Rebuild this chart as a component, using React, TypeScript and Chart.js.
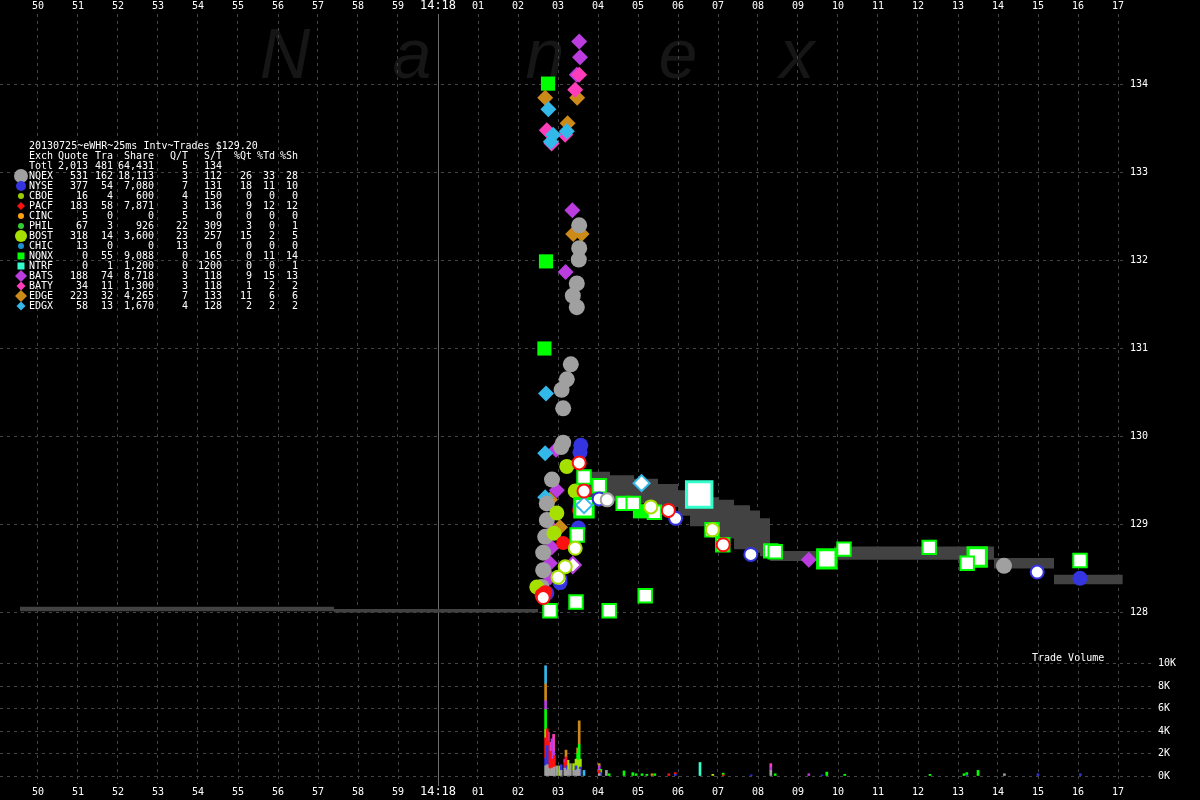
import React, { useEffect, useRef } from 'react';
import { Chart, registerables } from 'chart.js';

Chart.register(...registerables);

// ---------------- axis labels ----------------
const timeLabels = ['50', '51', '52', '53', '54', '55', '56', '57', '58', '59', '14:18', '01', '02', '03', '04', '05', '06', '07', '08', '09', '10', '11', '12', '13', '14', '15', '16', '17'];
const FIRST_SECOND = -10; // 14:17:50 relative to 14:18:00
const priceTicks = [128, 129, 130, 131, 132, 133, 134];
const volumeTicks = [0, 2000, 4000, 6000, 8000, 10000];

// ---------------- NBBO band (seconds after 14:18:00, price); each value holds until the next time ----------------
const bandT = [-10.45, -2.6, 2.5, 2.6, 3.75, 4.3, 4.9, 5.5, 6.0, 6.3, 6.7, 7.0, 7.4, 7.8, 8.05, 8.3, 9.9, 13.9, 15.4, 17.12];
const askP = [128.065, 128.04, 128.04, null, 129.6, 129.56, 129.52, 129.46, 129.39, 129.36, 129.31, 129.28, 129.22, 129.16, 129.07, 128.7, 128.75, 128.62, 128.43, 128.43];
const bidP = [128.015, 128.0, 128.0, null, 129.3, 129.27, 129.24, 129.2, 129.1, 128.98, 128.9, 128.84, 128.72, 128.68, 128.64, 128.585, 128.6, 128.5, 128.32, 128.32];

// ---------------- quotes ----------------
const nqexQT = [3.53, 3.53, 3.52, 3.47, 3.37, 3.47, 3.32, 3.22, 3.09, 3.13, 3.13, 3.08, 2.85, 2.72, 2.72, 2.68, 2.63, 2.63, 2.59, 14.15];
const nqexQP = [132.4, 132.14, 132.01, 131.74, 131.6, 131.47, 130.82, 130.65, 130.53, 130.32, 129.93, 129.88, 129.51, 129.24, 129.05, 128.86, 128.68, 128.48, 128.29, 128.53];
const nyseQT = [3.57, 3.55, 3.51, 3.55, 3.05, 2.72, 16.05];
const nyseQP = [129.9, 129.82, 128.96, 129.2, 128.34, 128.22, 128.39];
const pacfQT = [3.13, 2.59, 2.68, 3.53];
const pacfQP = [128.79, 128.2, 128.23, 129.16];
const bostQT = [3.22, 3.43, 2.97, 2.47, 2.9];
const bostQP = [129.66, 129.38, 129.13, 128.29, 128.9];
const nqnxQT = [2.75, 2.7, 2.66, 5.05];
const nqnxQP = [134.01, 131.99, 131.0, 129.15];
const batsQT = [3.53, 3.55, 3.47, 3.36, 3.19, 2.95, 2.97, 2.88, 2.84, 2.8, 2.8, 9.27];
const batsQP = [134.49, 134.31, 134.11, 132.57, 131.87, 129.85, 129.39, 128.94, 128.74, 128.56, 128.4, 128.6];
const batyQT = [3.53, 3.43, 2.72, 3.18, 2.84];
const batyQP = [134.11, 133.94, 133.48, 133.43, 133.33];
const edgeQT = [3.48, 2.68, 3.24, 3.38, 3.59, 2.8, 3.05];
const edgeQP = [133.85, 133.85, 133.56, 132.3, 132.3, 129.28, 128.97];
const edgxQT = [2.76, 2.88, 2.82, 3.22, 2.7, 2.68, 2.68];
const edgxQP = [133.72, 133.43, 133.35, 133.47, 130.49, 129.81, 129.31];

// ---------------- trades ----------------
const nqexTT = [4.23];
const nqexTP = [129.28];
const nyseTT = [5.94, 7.82, 14.98, 4.03, 3.05];
const nyseTP = [129.07, 128.66, 128.46, 129.29, 128.38];
const pacfTT = [3.53, 3.65, 5.76, 7.13, 2.63];
const pacfTP = [129.7, 129.38, 129.16, 128.77, 128.17];
const bostTT = [6.86, 5.32, 3.43, 3.18, 3.0];
const bostTP = [128.94, 129.2, 128.73, 128.52, 128.4];
const nqnxTT = [3.65, 4.03, 4.63, 4.88, 5.41, 8.32, 8.43, 10.15, 12.28, 13.23, 16.05, 3.45, 4.28, 5.18, 2.8, 3.48, 6.85, 7.12];
const nqnxTP = [129.54, 129.44, 129.24, 129.24, 129.14, 128.7, 128.69, 128.72, 128.74, 128.56, 128.59, 128.12, 128.02, 128.19, 128.02, 128.88, 128.94, 128.77];
const nqnxBigTT = [3.65, 9.72, 13.48];
const nqnxBigTP = [129.19, 128.61, 128.63];
const ntrfTT = [6.53];
const ntrfTP = [129.34];
const edgxTT = [5.09, 3.65];
const edgxTP = [129.47, 129.22];
const batsTT = [3.37];
const batsTP = [128.54];

// ---------------- trade volume ----------------
const nqexVT = [2.69, 2.73, 2.76, 2.81, 2.85, 2.89, 2.91, 2.97, 3.08, 3.17, 3.2, 3.25, 3.31, 3.39, 3.45, 3.49, 3.53, 4.03, 4.21, 8.32, 14.16];
const nqexVV = [900, 1000, 700, 600, 700, 700, 800, 900, 500, 700, 500, 600, 1100, 500, 500, 600, 600, 200, 500, 500, 200];
const nyseVT = [2.69, 2.73, 3.08, 3.2, 3.45, 3.56, 4.07, 5.93, 7.83, 9.6, 13.22, 15.0, 16.06];
const nyseVV = [700, 1700, 500, 400, 400, 800, 300, 150, 100, 100, 100, 200, 200];
const pacfVT = [2.69, 2.73, 2.76, 2.81, 2.85, 2.91, 3.17, 3.2, 4.03, 5.77, 5.93, 7.13];
const pacfVV = [1800, 1500, 2400, 1600, 800, 1000, 500, 800, 300, 200, 150, 100];
const bostVT = [2.69, 3.04, 3.25, 3.39, 3.45, 3.49, 3.56, 6.87];
const bostVV = [700, 900, 800, 600, 600, 800, 700, 150];
const nqnxVT = [2.69, 3.49, 3.53, 4.07, 4.28, 4.65, 4.87, 4.95, 5.1, 5.22, 5.42, 7.13, 8.43, 9.72, 10.17, 12.3, 13.15, 13.22, 13.5];
const nqnxVV = [1800, 600, 2200, 300, 200, 450, 300, 200, 200, 150, 200, 150, 200, 350, 150, 150, 200, 200, 500];
const ntrfVT = [6.55];
const ntrfVV = [1200];
const batsVT = [2.69, 2.76, 2.85, 2.89, 3.17, 4.03, 8.32, 9.27];
const batsVV = [800, 800, 1800, 1500, 300, 400, 300, 200];
const batyVT = [2.81, 2.89, 8.32];
const batyVV = [800, 1500, 300];
const edgeVT = [2.69, 3.2, 3.49, 3.53, 4.03, 5.35];
const edgeVV = [1500, 600, 500, 2100, 200, 200];
const edgxVT = [2.69, 3.65];
const edgxVV = [1600, 500];

// ---------------- summary table ----------------
const tableTitle = '20130725~eWHR~25ms Intv~Trades $129.20';
const tableHeader = ['Exch', 'Quote', 'Tra', 'Share', 'Q/T', 'S/T', '%Qt', '%Td', '%Sh'];
const tExch = ['Totl', 'NQEX', 'NYSE', 'CBOE', 'PACF', 'CINC', 'PHIL', 'BOST', 'CHIC', 'NQNX', 'NTRF', 'BATS', 'BATY', 'EDGE', 'EDGX'];
const tQuote = ['2,013', '531', '377', '16', '183', '5', '67', '318', '13', '0', '0', '188', '34', '223', '58'];
const tTra = ['481', '162', '54', '4', '58', '0', '3', '14', '0', '55', '1', '74', '11', '32', '13'];
const tShare = ['64,431', '18,113', '7,080', '600', '7,871', '0', '926', '3,600', '0', '9,088', '1,200', '8,718', '1,300', '4,265', '1,670'];
const tQT = ['5', '3', '7', '4', '3', '5', '22', '23', '13', '0', '0', '3', '3', '7', '4'];
const tST = ['134', '112', '131', '150', '136', '0', '309', '257', '0', '165', '1200', '118', '118', '133', '128'];
const tPQt = ['', '26', '18', '0', '9', '0', '3', '15', '0', '0', '0', '9', '1', '11', '2'];
const tPTd = ['', '33', '11', '0', '12', '0', '0', '2', '0', '11', '0', '15', '2', '6', '2'];
const tPSh = ['', '28', '10', '0', '12', '0', '1', '5', '0', '14', '1', '13', '2', '6', '2'];

// ---------------- styles ----------------
const COLORS: Record<string, string> = {
  NQEX: '#a0a0a0', NYSE: '#3434e0', CBOE: '#99cc00', PACF: '#ff1010', CINC: '#ffa010', PHIL: '#33cc33',
  BOST: '#a6e000', CHIC: '#1f8fcf', NQNX: '#00ff00', NTRF: '#33ffcc', BATS: '#bb3de0', BATY: '#ff3dbb',
  EDGE: '#cc8a18', EDGX: '#33b8ea',
};
const LEGEND_MARK: Record<string, [string, number]> = {
  NQEX: ['circle', 7], NYSE: ['circle', 5], CBOE: ['circle', 3], PACF: ['diamond', 4], CINC: ['circle', 3],
  PHIL: ['circle', 3], BOST: ['circle', 6], CHIC: ['circle', 3], NQNX: ['rect', 3.5], NTRF: ['rect', 3.5],
  BATS: ['diamond', 6], BATY: ['diamond', 4.5], EDGE: ['diamond', 6], EDGX: ['diamond', 4.5],
};
const FONT = '"DejaVu Sans Mono", monospace';
const GRID = '#454545';
const BAND = '#424242';
const DASH = [3, 4];

const W = 1200;
const PRICE_H = 650;
const VOL_H = 150;
// x mapping: 14:18:00 at 438 px, 40 px per second; plot starts at x=0
const X_MIN = -438 / 40;
const PRICE_RIGHT = 1125;
const VOL_RIGHT = 1153;
const PRICE_TOP = 14;
// price: 88 px per dollar, 128 at y=612.5
const P_MAX = 128 + (612.5 - PRICE_TOP) / 88;
const P_MIN = 128 - (PRICE_H - 612.5) / 88;
// volume panel local coords: 0 at 126, 10K at 13.5
const VOL_BOTTOM = 134;
const V_PER_PX = 10000 / (126 - 13.5);
const V_MAX = 10000 + 13.5 * V_PER_PX;
const V_MIN = -(VOL_BOTTOM - 126) * V_PER_PX;

const pts = (t: number[], p: (number | null)[]) => t.map((x, i) => ({ x, y: p[i] }));

const zeroPad = (s: any) => {
  s.paddingLeft = 0; s.paddingRight = 0; s.paddingTop = 0; s.paddingBottom = 0;
};

function drawMark(ctx: CanvasRenderingContext2D, kind: string, x: number, y: number, r: number, color: string) {
  ctx.fillStyle = color;
  ctx.beginPath();
  if (kind === 'circle') ctx.arc(x, y, r, 0, Math.PI * 2);
  else if (kind === 'rect') ctx.rect(x - r, y - r, 2 * r, 2 * r);
  else {
    ctx.moveTo(x, y - r); ctx.lineTo(x + r, y); ctx.lineTo(x, y + r); ctx.lineTo(x - r, y); ctx.closePath();
  }
  ctx.fill();
}

const xTickFont = (c: any) => (c.tick && c.tick.value === 0 ? { family: FONT, size: 12, lineHeight: 1 } : { family: FONT, size: 10, lineHeight: 1.2 });
const xGridColor = (c: any) => (c.tick && c.tick.value === 0 ? 'rgba(0,0,0,0)' : GRID);
const xLabel = (v: any) => timeLabels[Math.round(Number(v)) - FIRST_SECOND] ?? '';
const xTickList = timeLabels.map((_, i) => i + FIRST_SECOND);

const pricePlugin = {
  id: 'priceDecor',
  beforeDraw(chart: any) {
    const ctx = chart.ctx as CanvasRenderingContext2D;
    ctx.save();
    ctx.fillStyle = '#000';
    ctx.fillRect(0, 0, chart.width, chart.height);
    ctx.font = 'italic 70px "Liberation Sans", sans-serif';
    ctx.fillStyle = '#161616';
    ctx.textAlign = 'center';
    ctx.textBaseline = 'alphabetic';
    const letters = ['N', 'a', 'n', 'e', 'x'];
    const lx = [285, 412, 545, 678, 797];
    letters.forEach((ch, i) => ctx.fillText(ch, lx[i], 78));
    ctx.restore();
  },
  beforeDatasetsDraw(chart: any) {
    const ctx = chart.ctx as CanvasRenderingContext2D;
    const x = Math.round(chart.scales.x.getPixelForValue(0)) + 0.5;
    ctx.save();
    ctx.strokeStyle = '#6e6e6e';
    ctx.lineWidth = 1;
    ctx.beginPath();
    ctx.moveTo(x, PRICE_TOP);
    ctx.lineTo(x, chart.height);
    ctx.stroke();
    ctx.restore();
  },
  afterDraw(chart: any) {
    const ctx = chart.ctx as CanvasRenderingContext2D;
    ctx.save();
    ctx.font = `10px ${FONT}`;
    ctx.fillStyle = '#fff';
    ctx.textBaseline = 'middle';
    const rowY = (i: number) => 146 + i * 10;
    const colR = [88, 113, 154, 188, 222, 252, 275, 298];
    ctx.textAlign = 'left';
    ctx.fillText(tableTitle, 29, rowY(0));
    ctx.fillText(tableHeader[0], 29, rowY(1));
    ctx.textAlign = 'right';
    tableHeader.slice(1).forEach((h, j) => ctx.fillText(h, colR[j], rowY(1)));
    tExch.forEach((ex, i) => {
      const y = rowY(i + 2);
      if (LEGEND_MARK[ex]) {
        const [kind, r] = LEGEND_MARK[ex];
        drawMark(ctx, kind, 21, y, r, COLORS[ex]);
      }
      ctx.fillStyle = '#fff';
      ctx.textAlign = 'left';
      ctx.fillText(ex, 29, y);
      ctx.textAlign = 'right';
      const vals = [tQuote[i], tTra[i], tShare[i], tQT[i], tST[i], tPQt[i], tPTd[i], tPSh[i]];
      vals.forEach((v, j) => { if (v) ctx.fillText(v, colR[j], y); });
    });
    ctx.restore();
  },
};

const volPlugin = {
  id: 'volDecor',
  beforeDraw(chart: any) {
    const ctx = chart.ctx as CanvasRenderingContext2D;
    ctx.save();
    ctx.fillStyle = '#000';
    ctx.fillRect(0, 0, chart.width, chart.height);
    ctx.restore();
  },
  beforeDatasetsDraw(chart: any) {
    const ctx = chart.ctx as CanvasRenderingContext2D;
    const x = Math.round(chart.scales.x.getPixelForValue(0)) + 0.5;
    ctx.save();
    ctx.strokeStyle = '#6e6e6e';
    ctx.lineWidth = 1;
    ctx.beginPath();
    ctx.moveTo(x, 0);
    ctx.lineTo(x, VOL_BOTTOM + 2);
    ctx.stroke();
    ctx.font = `10px ${FONT}`;
    ctx.fillStyle = '#fff';
    ctx.textAlign = 'left';
    ctx.textBaseline = 'middle';
    ctx.fillText('Trade Volume', 1032, 8);
    ctx.restore();
  },
};

function quoteSet(label: string, t: number[], p: number[], style: string, r: number, order: number) {
  return {
    label, data: pts(t, p), pointStyle: style, pointRadius: r, pointHoverRadius: r,
    backgroundColor: COLORS[label], borderColor: COLORS[label], borderWidth: 0, order,
  };
}
function tradeSet(label: string, t: number[], p: number[], style: string, r: number, order: number, bw = 2) {
  return {
    label: label + ' trades', data: pts(t, p), pointStyle: style, pointRadius: r, pointHoverRadius: r,
    backgroundColor: '#ffffff', borderColor: COLORS[label], borderWidth: bw, order,
  };
}
function volSet(label: string, t: number[], v: number[]) {
  return {
    label, data: pts(t, v), backgroundColor: COLORS[label], borderWidth: 0,
    barThickness: 2, stack: 'v', grouped: false,
  };
}

export default function App() {
  const priceRef = useRef<HTMLCanvasElement>(null);
  const volRef = useRef<HTMLCanvasElement>(null);

  useEffect(() => {
    Chart.defaults.font.family = FONT;
    Chart.defaults.color = '#ffffff';

    const priceChart = new Chart(priceRef.current as HTMLCanvasElement, {
      type: 'scatter',
      data: {
        datasets: [
          {
            type: 'line', label: 'ask', data: pts(bandT, askP), borderColor: 'rgba(0,0,0,0)', borderWidth: 1,
            pointRadius: 0, stepped: 'before', fill: false, order: 101, spanGaps: false,
          },
          {
            type: 'line', label: 'bid', data: pts(bandT, bidP), borderColor: 'rgba(0,0,0,0)', borderWidth: 1,
            pointRadius: 0, stepped: 'before', fill: '-1', backgroundColor: BAND, order: 100, spanGaps: false,
          },
          quoteSet('NQNX', nqnxQT, nqnxQP, 'rect', 10, 12),
          quoteSet('BATS', batsQT, batsQP, 'rectRot', 8, 11),
          quoteSet('EDGE', edgeQT, edgeQP, 'rectRot', 8, 10),
          quoteSet('BATY', batyQT, batyQP, 'rectRot', 8, 9),
          quoteSet('NQEX', nqexQT, nqexQP, 'circle', 8, 8),
          quoteSet('EDGX', edgxQT, edgxQP, 'rectRot', 8, 8),
          quoteSet('BOST', bostQT, bostQP, 'circle', 7.5, 7),
          quoteSet('PACF', pacfQT, pacfQP, 'circle', 7, 6),
          quoteSet('NYSE', nyseQT, nyseQP, 'circle', 7.5, 6),
          tradeSet('NTRF', ntrfTT, ntrfTP, 'rect', 18, 5, 3),
          tradeSet('NQNX', nqnxBigTT, nqnxBigTP, 'rect', 13, 4, 3),
          tradeSet('NQNX', nqnxTT, nqnxTP, 'rect', 9.5, 3),
          tradeSet('BATS', batsTT, batsTP, 'rectRot', 8, 2),
          tradeSet('EDGX', edgxTT, edgxTP, 'rectRot', 8, 2),
          tradeSet('NQEX', nqexTT, nqexTP, 'circle', 6.5, 1),
          tradeSet('BOST', bostTT, bostTP, 'circle', 6.5, 1),
          tradeSet('PACF', pacfTT, pacfTP, 'circle', 6.5, 1),
          tradeSet('NYSE', nyseTT, nyseTP, 'circle', 6.5, 1),
        ] as any,
      },
      options: {
        responsive: false,
        animation: false,
        events: [],
        layout: { padding: 0, autoPadding: false },
        plugins: { legend: { display: false }, tooltip: { enabled: false }, title: { display: false } },
        scales: {
          x: {
            type: 'linear', position: 'top', min: X_MIN, max: X_MIN + PRICE_RIGHT / 40, bounds: 'data', offset: false,
            afterFit: (s: any) => { s.height = PRICE_TOP; zeroPad(s); },
            afterBuildTicks: (s: any) => { s.ticks = xTickList.map((v) => ({ value: v })); },
            ticks: { color: '#fff', font: xTickFont as any, padding: 2, maxRotation: 0, minRotation: 0, autoSkip: false, callback: xLabel },
            grid: { color: xGridColor as any, drawTicks: false, offset: false },
            border: { display: false, dash: DASH },
          },
          y: {
            type: 'linear', position: 'right', min: P_MIN, max: P_MAX, bounds: 'data',
            afterFit: (s: any) => { s.width = W - PRICE_RIGHT; zeroPad(s); },
            afterBuildTicks: (s: any) => { s.ticks = priceTicks.map((v) => ({ value: v })); },
            ticks: { color: '#fff', font: { family: FONT, size: 10 }, padding: 5, callback: (v: any) => String(v) },
            grid: { color: GRID, drawTicks: false },
            border: { display: false, dash: DASH },
          },
        },
      } as any,
      plugins: [pricePlugin],
    });

    const volChart = new Chart(volRef.current as HTMLCanvasElement, {
      type: 'bar',
      data: {
        datasets: [
          volSet('NQEX', nqexVT, nqexVV),
          volSet('NYSE', nyseVT, nyseVV),
          volSet('PACF', pacfVT, pacfVV),
          volSet('BOST', bostVT, bostVV),
          volSet('NQNX', nqnxVT, nqnxVV),
          volSet('NTRF', ntrfVT, ntrfVV),
          volSet('BATS', batsVT, batsVV),
          volSet('BATY', batyVT, batyVV),
          volSet('EDGE', edgeVT, edgeVV),
          volSet('EDGX', edgxVT, edgxVV),
        ] as any,
      },
      options: {
        responsive: false,
        animation: false,
        events: [],
        layout: { padding: 0, autoPadding: false },
        plugins: { legend: { display: false }, tooltip: { enabled: false }, title: { display: false } },
        scales: {
          x: {
            type: 'linear', position: 'bottom', min: X_MIN, max: X_MIN + VOL_RIGHT / 40, bounds: 'data', offset: false,
            afterFit: (s: any) => { s.height = VOL_H - VOL_BOTTOM; zeroPad(s); },
            afterBuildTicks: (s: any) => { s.ticks = xTickList.map((v) => ({ value: v })); },
            ticks: { color: '#fff', font: xTickFont as any, padding: 2, maxRotation: 0, minRotation: 0, autoSkip: false, callback: xLabel },
            grid: { color: xGridColor as any, drawTicks: false, offset: false },
            border: { display: false, dash: DASH },
          },
          y: {
            type: 'linear', position: 'right', min: V_MIN, max: V_MAX, bounds: 'data', stacked: true,
            afterFit: (s: any) => { s.width = W - VOL_RIGHT; zeroPad(s); },
            afterBuildTicks: (s: any) => { s.ticks = volumeTicks.map((v) => ({ value: v })); },
            ticks: { color: '#fff', font: { family: FONT, size: 10 }, padding: 5, callback: (v: any) => `${Math.round(Number(v) / 1000)}K` },
            grid: { color: GRID, drawTicks: false },
            border: { display: false, dash: DASH },
          },
        },
      } as any,
      plugins: [volPlugin],
    });

    return () => {
      priceChart.destroy();
      volChart.destroy();
    };
  }, []);

  return (
    <div style={{ position: 'fixed', left: 0, top: 0, width: W, height: PRICE_H + VOL_H, background: '#000' }}>
      <canvas ref={priceRef} width={W} height={PRICE_H} style={{ position: 'absolute', left: 0, top: 0, display: 'block' }} />
      <canvas ref={volRef} width={W} height={VOL_H} style={{ position: 'absolute', left: 0, top: PRICE_H, display: 'block' }} />
    </div>
  );
}
